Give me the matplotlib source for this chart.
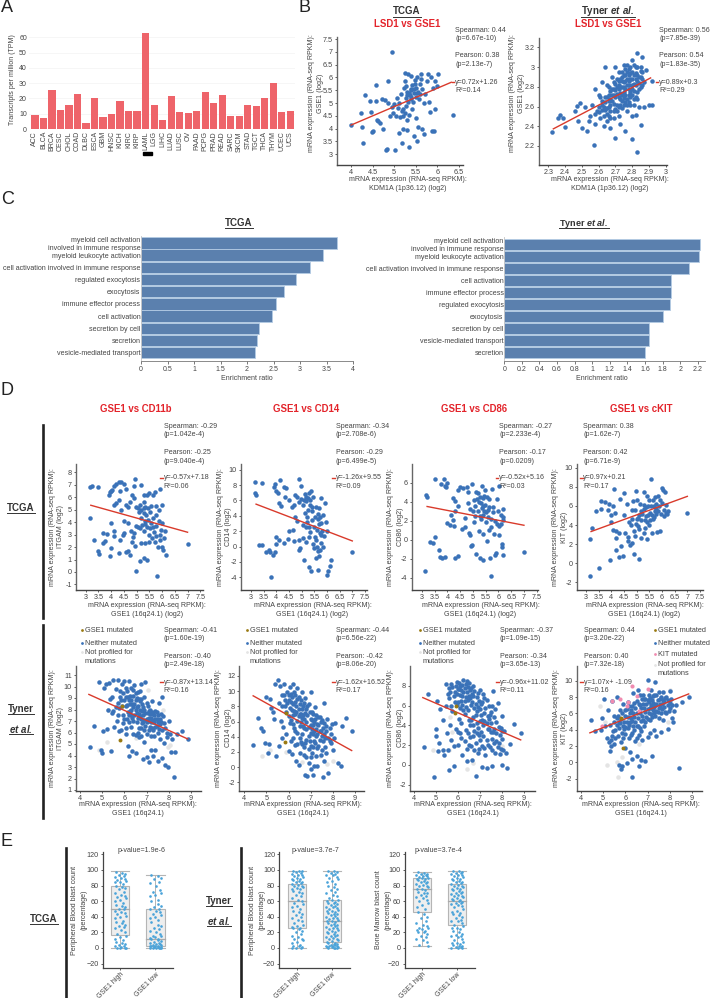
import matplotlib
matplotlib.use("Agg")
import matplotlib.pyplot as plt
from matplotlib.lines import Line2D
from matplotlib.patches import Rectangle

plt.rcParams['font.family'] = ['Liberation Sans', 'DejaVu Sans']
plt.rcParams['mathtext.fontset'] = 'custom'
plt.rcParams['mathtext.rm'] = 'Liberation Sans'
plt.rcParams['mathtext.bfit'] = 'Liberation Sans:italic:bold'

W, H = 710, 998
TXT = '#444444'
RED = '#e3242b'
BLUE = '#3a72b8'
LINE_RED = '#d93a2b'

# ---- panel A
cancer_types = ["ACC","BLCA","BRCA","CESC","CHOL","COAD","DLBC","ESCA","GBM","HNSC","KICH","KIRC","KIRP","LAML","LGG","LIHC","LUAD","LUSC","OV","PAAD","PCPG","PRAD","READ","SARC","SKCM","STAD","TGCT","THCA","THYM","UCEC","UCS"]
tpm = [9,7,25.3,12.2,16,23,4,20,8,9.5,18,12,11.5,62.8,15.7,6,21.6,10.8,10.4,12,24.2,17,22.5,8.6,8.2,15.5,15,20,30,11,12]

# ---- panel B
b_tcga = [(4.0,4.14),(4.22,4.6),(4.25,4.05),(4.27,3.45),(4.33,5.33),(4.45,5.08),(4.47,4.65),(4.5,3.9),(4.48,3.87),(4.58,5.7),(4.57,5.08),(4.6,4.35),(4.62,4.3),(4.68,4.22),(4.72,5.15),(4.75,4.0),(4.78,5.12),(4.8,3.15),(4.83,3.2),(4.85,5.85),(4.85,5.0),(4.9,4.5),(4.96,6.98),(4.95,4.85),(4.98,4.6),(5.0,4.95),(5.03,3.15),(5.05,4.5),(5.07,5.2),(5.08,4.8),(5.1,3.85),(5.12,5.0),(5.15,5.35),(5.17,3.45),(5.2,4.0),(5.2,4.5),(5.22,5.6),(5.25,5.85),(5.25,6.18),(5.27,4.9),(5.3,3.95),(5.3,5.45),(5.32,6.15),(5.33,5.05),(5.35,4.55),(5.35,3.3),(5.38,5.55),(5.38,5.15),(5.4,6.05),(5.42,4.75),(5.42,5.7),(5.45,5.4),(5.45,3.7),(5.47,5.9),(5.5,5.25),(5.5,4.4),(5.5,5.6),(5.52,3.5),(5.53,6.0),(5.55,5.45),(5.55,4.05),(5.58,5.15),(5.6,5.75),(5.62,5.95),(5.63,6.12),(5.65,5.55),(5.65,4.0),(5.68,5.0),(5.7,3.8),(5.72,5.35),(5.75,5.85),(5.78,6.15),(5.8,5.05),(5.82,4.65),(5.85,6.0),(5.87,3.9),(5.9,5.6),(5.92,3.92),(5.95,4.75),(5.95,5.85),(6.02,6.12),(6.0,5.65),(6.35,4.53),(5.28,5.2),(5.36,5.3),(5.44,5.05),(5.6,5.35),(5.48,5.75),(5.28,5.65),(5.18,4.7),(5.34,5.4),(5.4,5.5),(5.46,5.55),(5.3,5.3),(5.4,5.25),(5.52,5.4),(5.26,4.6),(5.14,4.45),(5.2,4.75),(5.3,4.35)]
b_tyner = [(2.32,2.34),(2.36,2.48),(2.37,2.51),(2.39,2.48),(2.4,2.39),(2.46,2.55),(2.47,2.61),(2.48,2.45),(2.49,2.64),(2.5,2.38),(2.52,2.6),(2.53,2.35),(2.54,2.45),(2.55,2.5),(2.56,2.62),(2.57,2.21),(2.58,2.42),(2.58,2.78),(2.59,2.55),(2.6,2.72),(2.61,2.48),(2.62,2.62),(2.62,2.85),(2.63,2.4),(2.64,2.56),(2.64,3.0),(2.65,2.7),(2.66,2.5),(2.66,2.8),(2.67,2.62),(2.67,2.38),(2.68,2.9),(2.69,2.55),(2.69,2.72),(2.7,2.28),(2.7,2.83),(2.7,3.0),(2.71,2.62),(2.72,2.5),(2.72,2.78),(2.72,2.95),(2.73,2.68),(2.73,2.42),(2.74,2.86),(2.74,2.58),(2.75,3.02),(2.75,2.75),(2.76,2.65),(2.76,2.35),(2.76,2.92),(2.77,2.82),(2.77,2.55),(2.78,2.98),(2.78,2.72),(2.79,2.88),(2.79,2.62),(2.8,3.07),(2.8,2.78),(2.8,2.27),(2.8,2.5),(2.81,2.92),(2.81,2.68),(2.82,3.0),(2.82,2.82),(2.82,2.51),(2.83,2.14),(2.83,3.14),(2.83,2.75),(2.84,2.9),(2.84,2.6),(2.85,3.0),(2.85,2.8),(2.85,2.41),(2.86,3.1),(2.86,2.95),(2.87,2.85),(2.87,2.6),(2.88,2.97),(2.9,2.62),(2.92,2.62),(2.92,2.86),(2.68,2.66),(2.7,2.7),(2.72,2.86),(2.74,2.72),(2.76,2.78),(2.78,2.82),(2.8,2.88),(2.66,2.6),(2.64,2.65),(2.62,2.56),(2.68,2.78),(2.7,2.57),(2.74,2.95),(2.78,2.65),(2.82,2.7),(2.84,2.84),(2.6,2.6),(2.58,2.52),(2.65,2.45),(2.72,2.6),(2.76,2.98),(2.8,2.95),(2.73,2.8),(2.69,2.85),(2.75,2.85),(2.79,2.75),(2.83,2.92),(2.66,2.72),(2.63,2.5),(2.77,2.68),(2.71,2.73),(2.81,2.83),(2.85,2.9),(2.78,2.92),(2.74,2.66),(2.67,2.55),(2.61,2.7),
 (2.65,2.58),(2.67,2.68),(2.69,2.63),(2.71,2.8),(2.73,2.74),(2.75,2.69),(2.77,2.88),(2.79,2.94),(2.81,2.76),(2.83,2.86),(2.85,2.96),(2.86,2.88),(2.84,2.78),(2.82,2.94),(2.8,2.82),(2.78,2.78),(2.76,2.72),(2.74,2.8),(2.72,2.7),(2.7,2.77),(2.68,2.72),(2.66,2.66),(2.64,2.7),(2.62,2.66),(2.6,2.54),(2.63,2.6),(2.65,2.52),(2.67,2.48),(2.69,2.48),(2.71,2.55),(2.73,2.62),(2.75,2.62),(2.77,2.62),(2.79,2.7),(2.81,2.62),(2.83,2.68),(2.75,2.92),(2.77,2.95),(2.79,3.0),(2.81,3.02),(2.83,3.0),(2.73,2.88),(2.71,2.88),(2.69,2.78),(2.67,2.76),(2.65,2.82),(2.77,3.02),(2.75,2.8),(2.72,2.82),(2.82,2.88),(2.86,2.82),(2.8,2.72),(2.78,2.86),(2.76,2.86),(2.74,2.9)]

# ---- panel C
terms_tcga = ["myeloid cell activation\ninvolved in immune response","myeloid leukocyte activation","cell activation involved in immune response","regulated exocytosis","exocytosis","immune effector process","cell activation","secretion by cell","secretion","vesicle-mediated transport"]
ratio_tcga = [3.7,3.44,3.19,2.93,2.69,2.54,2.48,2.22,2.18,2.16]
terms_tyner = ["myeloid cell activation\ninvolved in immune response","myeloid leukocyte activation","cell activation involved in immune response","cell activation","immune effector process","regulated exocytosis","exocytosis","secretion by cell","vesicle-mediated transport","secretion"]
ratio_tyner = [2.23,2.21,2.10,1.89,1.89,1.88,1.81,1.65,1.64,1.60]

# ---- panel D, TCGA row
itgam_tcga = [(3.16,6.85),(3.24,6.9),(3.47,6.85),(3.16,4.35),(3.31,2.55),(3.48,1.72),(3.51,1.45),(3.68,3.1),(3.68,2.35),(3.75,2.5),(3.85,3.08),(3.95,1.25),(4.0,3.95),(4.0,1.9),(4.1,3.3),(4.1,2.85),(4.3,1.5),(4.35,2.6),(4.45,3.0),(4.5,3.1),(4.6,1.6),(4.67,1.65),(4.75,1.4),(4.82,2.4),(4.86,2.8),(4.93,2.1),(4.97,0.1),(5.04,3.6),(5.12,0.9),(5.19,2.3),(5.27,1.1),(5.34,2.3),(5.41,1.0),(5.8,-0.32),(5.49,2.4),(3.9,6.2),(3.95,6.4),(4.0,6.5),(4.05,6.6),(4.1,6.9),(4.2,7.1),(4.3,7.2),(4.4,7.25),(4.5,7.1),(4.6,6.7),(4.35,6.5),(4.3,5.8),(4.2,5.5),(4.1,5.4),(4.4,5.0),(4.6,5.4),(4.67,5.2),(4.75,5.6),(4.82,6.2),(4.9,6.9),(4.93,7.5),(4.9,5.9),(4.97,5.2),(5.04,5.1),(5.12,5.4),(5.19,7.0),(5.27,6.2),(5.27,5.6),(5.34,5.2),(5.41,6.2),(5.49,6.3),(5.56,5.3),(5.64,6.2),(5.71,6.4),(5.78,5.3),(5.86,5.0),(5.93,6.7),(6.01,5.4),(7.0,2.25),(4.5,4.1),(4.67,3.9),(4.79,3.3),(4.9,3.1),(4.97,3.7),(5.12,3.5),(5.19,4.3),(5.23,3.8),(5.27,4.7),(5.3,3.3),(5.34,4.1),(5.38,4.6),(5.41,3.6),(5.45,4.2),(5.49,3.0),(5.53,4.8),(5.56,3.9),(5.6,2.7),(5.64,4.3),(5.67,3.2),(5.71,2.4),(5.75,3.7),(5.78,2.9),(5.82,2.0),(5.86,4.1),(5.9,3.0),(5.93,2.6),(5.97,3.4),(6.01,2.0),(6.01,3.9),(6.04,1.8),(6.08,2.7),(6.12,3.3),(6.16,1.35),(5.08,4.8),(5.16,5.0),(5.34,3.85),(5.27,5.15),(5.45,5.1),(5.64,3.6),(5.53,3.5),(5.78,4.6)]
cd14_tcga = [(3.15,8.35),(3.15,6.95),(3.2,6.7),(3.45,8.25),(3.3,0.2),(3.45,0.25),(3.6,-0.65),(3.7,-0.4),(3.75,-0.65),(3.8,-3.9),(3.85,-1.1),(3.95,-0.7),(3.9,7.8),(3.95,8.1),(4.0,7.2),(4.05,7.0),(4.15,8.7),(4.3,7.7),(4.35,6.4),(4.4,7.6),(4.5,6.1),(4.1,5.7),(4.2,5.3),(4.0,1.2),(4.0,0.3),(4.1,0.8),(4.3,0.5),(4.45,1.0),(4.5,2.0),(4.67,2.2),(4.71,0.7),(4.6,5.2),(4.71,5.4),(4.75,6.7),(4.82,6.4),(4.9,5.8),(4.9,8.8),(4.97,7.9),(4.97,6.2),(5.04,5.4),(5.04,2.8),(5.12,6.8),(5.16,5.9),(4.75,3.8),(4.82,3.3),(4.9,0.9),(4.9,-0.4),(4.93,-0.2),(5.04,1.1),(5.08,-1.7),(5.16,0.6),(5.19,2.6),(5.23,3.9),(5.27,4.7),(5.3,1.3),(5.34,6.0),(5.38,7.2),(5.41,5.1),(5.41,3.4),(5.45,0.3),(5.49,-0.2),(5.53,3.9),(5.56,5.1),(5.6,2.1),(5.64,3.6),(5.64,-0.6),(5.67,-1.2),(5.71,1.7),(5.75,0.4),(5.78,6.3),(5.86,4.1),(5.93,5.7),(5.97,3.2),(6.01,2.0),(5.3,-2.7),(5.35,-3.2),(5.65,-3.1),(6.0,-3.7),(6.05,-3.2),(6.1,-2.5),(6.15,-1.8),(7.0,-0.7),(5.23,3.2),(5.3,2.5),(5.34,1.9),(5.41,4.6),(5.49,2.5),(5.53,1.2),(5.56,0.8),(5.64,4.2),(5.67,2.9),(5.71,3.9),(5.75,1.5),(5.78,3.1),(5.82,2.0),(5.86,0.0),(5.9,1.4),(5.12,4.4),(5.08,6.1),(5.19,6.5),(5.27,6.3),(5.34,5.4),(5.45,6.5),(5.3,7.0),(5.67,5.0),(5.56,-1.5),(5.6,0.0),(5.71,-0.5)]
cd86_tcga = [(3.1,-3.3),(3.15,4.7),(3.2,4.5),(3.3,-0.2),(3.45,-0.3),(3.5,0.25),(3.5,6.4),(3.65,-1.05),(3.7,-1.85),(3.8,-1.95),(3.9,-1.85),(3.85,6.4),(3.9,5.7),(3.95,5.6),(3.75,5.9),(4.0,6.0),(4.2,4.4),(4.3,4.1),(4.4,3.6),(4.4,5.2),(4.5,5.5),(4.6,5.4),(4.0,1.8),(4.1,1.6),(4.15,2.6),(4.3,3.0),(4.2,2.1),(4.25,1.4),(4.3,-1.95),(4.4,-1.7),(4.56,1.1),(4.67,2.3),(4.67,1.3),(4.75,5.5),(4.79,5.0),(4.82,3.9),(4.86,0.7),(4.9,3.2),(4.9,0.5),(4.93,-0.65),(4.97,-0.6),(4.97,5.9),(5.04,1.9),(5.04,4.2),(5.08,3.6),(5.12,5.0),(5.12,-1.5),(5.19,3.0),(5.23,0.9),(5.27,2.5),(5.27,-1.9),(5.3,3.9),(5.34,5.7),(5.38,4.4),(5.41,0.6),(5.41,-2.1),(5.45,3.0),(5.49,5.2),(5.53,1.9),(5.56,-0.1),(5.6,3.1),(5.64,4.3),(5.64,1.0),(5.67,-1.9),(5.71,2.2),(5.75,5.3),(5.78,3.4),(5.82,0.6),(5.86,-1.65),(5.7,-3.8),(5.9,-1.4),(5.93,4.3),(5.97,3.0),(6.01,1.4),(6.01,5.7),(6.04,0.5),(6.08,2.6),(6.12,-0.4),(6.16,2.1),(6.15,-0.8),(6.19,2.4),(6.19,-1.6),(7.0,-1.3),(5.3,2.2),(5.34,3.3),(5.27,4.5),(5.23,4.0),(5.19,4.9),(5.38,3.6),(5.41,2.6),(5.49,3.7),(5.53,2.9),(5.56,4.5),(5.16,4.3),(5.08,2.5),(5.45,4.6),(5.6,2.4),(5.64,3.4),(5.71,1.3),(5.78,2.9),(5.01,3.0),(5.86,2.0),(5.93,1.7),(6.08,1.7),(6.16,3.2)]
kit_tcga = [(3.15,-1.35),(3.15,2.5),(3.25,3.7),(3.4,5.5),(3.5,-0.5),(3.6,6.5),(3.6,5.7),(3.75,6.4),(3.85,5.6),(3.9,6.2),(3.95,0.3),(4.0,5.0),(4.0,4.3),(4.05,6.0),(4.05,3.5),(4.1,7.8),(4.15,5.3),(4.2,3.4),(4.2,2.6),(4.2,1.4),(4.3,3.2),(4.3,0.6),(4.35,6.7),(4.4,1.8),(4.45,0.8),(4.5,7.4),(4.5,5.0),(4.55,3.2),(4.6,6.2),(4.64,2.3),(4.67,2.7),(4.71,4.3),(4.75,1.9),(4.79,4.0),(4.82,5.6),(4.82,2.1),(4.86,6.5),(4.9,1.0),(4.9,3.4),(4.93,2.9),(4.97,7.6),(5.01,6.6),(5.01,4.6),(5.04,3.9),(5.08,5.0),(5.12,6.2),(5.1,0.45),(5.16,2.6),(5.19,4.5),(5.27,7.5),(5.27,3.2),(5.3,5.7),(5.34,3.7),(5.38,4.9),(5.41,7.0),(5.41,2.5),(5.45,6.0),(5.49,4.0),(5.53,5.3),(5.56,8.8),(5.6,3.2),(5.64,6.6),(5.67,4.8),(5.71,5.5),(5.78,6.2),(5.82,3.3),(5.86,7.0),(5.93,6.6),(5.93,3.4),(6.01,7.9),(6.04,7.7),(6.08,5.6),(6.12,7.5),(6.16,6.1),(6.19,5.1),(6.23,5.5),(7.0,5.3),(5.04,4.7),(5.16,5.5),(5.23,5.2),(5.27,6.1),(5.34,4.5),(5.38,5.9),(5.41,4.3),(5.45,5.0),(5.49,6.6),(5.53,4.5),(5.56,6.0),(5.6,5.0),(5.64,4.6),(5.67,6.0),(5.71,6.9),(5.75,5.2),(5.78,5.7),(5.86,5.5),(5.9,6.0),(5.97,5.2),(6.01,6.3),(6.08,4.9),(6.16,5.3),(4.82,4.6),(4.97,4.1),(4.93,5.6),(5.08,3.6)]

# ---- panel D, Tyner row
itgam_tyner = [(4.45,4.75),(4.65,6.55),(4.85,10.4),(4.95,4.5),(5.0,4.2),(5.05,6.1),(5.1,9.9),(5.15,10.2),(5.2,6.3),(5.25,8.0),(5.3,10.3),(5.35,8.9),(5.4,4.35),(5.45,7.7),(5.5,10.6),(5.55,6.5),(5.6,8.2),(5.6,9.8),(5.65,7.0),(5.7,10.6),(5.75,6.1),(5.8,9.1),(5.85,6.2),(5.9,10.2),(5.95,7.5),(6.0,10.5),(6.0,8.8),(6.05,5.9),(6.1,9.6),(6.15,7.8),(6.15,4.8),(6.2,10.5),(6.2,4.0),(6.25,8.5),(6.3,6.5),(6.3,9.9),(6.35,7.3),(6.35,4.4),(6.4,9.2),(6.4,5.9),(6.45,10.1),(6.5,8.0),(6.5,4.2),(6.55,6.9),(6.6,9.5),(6.65,7.6),(6.65,5.6),(6.7,8.7),(6.75,10.2),(6.75,6.4),(6.8,7.9),(6.85,3.7),(6.9,9.1),(6.9,5.2),(6.95,10.4),(7.0,7.2),(7.0,3.9),(7.05,8.3),(7.1,6.2),(7.1,3.4),(7.15,7.6),(7.2,4.5),(7.25,8.7),(7.3,6.9),(7.3,4.0),(7.35,5.7),(7.4,7.9),(7.4,4.5),(7.45,6.6),(7.5,3.5),(7.55,8.6),(7.6,7.2),(7.6,5.4),(7.7,6.2),(7.7,9.1),(7.7,3.8),(7.75,7.4),(7.8,5.1),(7.85,3.2),(7.9,6.0),(7.95,3.0),(8.0,7.0),(8.05,5.9),(8.1,4.3),(8.15,5.4),(8.25,2.1),(8.3,4.3),(8.35,5.9),(8.6,6.1),(8.85,5.4),(5.7,8.6),(5.9,8.3),(6.0,7.2),(6.1,8.4),(6.2,7.5),(6.25,9.2),(6.3,8.0),(6.4,7.0),(6.45,8.5),(6.5,9.4),(6.55,7.7),(6.6,8.3),(6.65,6.4),(6.7,7.4),(6.75,8.9),(6.8,6.8),(6.85,7.5),(6.9,8.0),(6.95,6.6),(7.0,8.6),(7.05,7.0),(7.1,7.9),(7.15,6.5),(7.2,7.3),(7.25,7.8),(7.3,6.2),(7.35,7.5),(7.45,7.2),(7.5,6.9),(7.55,6.3),(6.3,8.8),(6.05,9.1),(6.4,9.7),(6.7,9.6),(5.95,6.8),
 (5.8,9.6),(5.85,8.8),(5.95,9.4),(6.05,9.9),(6.05,8.3),(6.15,9.1),(6.2,8.8),(6.25,7.9),(6.35,8.5),(6.4,8.2),(6.45,7.5),(6.5,8.8),(6.55,9.0),(6.55,8.2),(6.6,7.3),(6.65,8.9),(6.7,8.0),(6.75,7.2),(6.8,8.5),(6.85,8.2),(6.85,6.9),(6.9,7.1),(6.95,7.7),(7.0,6.9),(7.05,7.7),(7.1,7.3),(7.15,8.0),(7.2,6.9),(7.25,7.1),(7.3,7.6),(7.35,6.9),(7.4,7.2),(7.45,7.8),(7.5,7.5),(7.55,7.0),(7.6,6.7),(7.65,7.6),(7.65,6.9),(7.8,6.8),(7.85,6.4),(6.5,5.8),(6.6,6.0),(6.75,5.7),(6.9,6.2),(7.0,5.9),(7.2,5.7),(7.25,6.4),(7.4,6.5),(7.5,6.0),(6.3,7.5),(6.1,7.2),(6.2,6.9),(6.05,6.4),(5.7,7.5),(5.75,8.1),(5.5,7.9),(5.45,9.1),(7.9,5.6)]
cd14_tyner = [(4.4,2.9),(4.6,6.45),(4.75,5.1),(4.85,4.8),(4.95,3.2),(5.0,9.3),(5.05,1.9),(5.1,3.1),(5.15,9.0),(5.2,7.8),(5.3,7.2),(5.35,6.4),(5.4,11.0),(5.45,1.5),(5.5,11.5),(5.55,8.5),(5.55,2.8),(5.6,10.7),(5.65,6.1),(5.7,9.5),(5.7,3.8),(5.75,5.3),(5.8,11.0),(5.85,8.0),(5.9,4.3),(5.95,9.9),(6.0,6.7),(6.0,2.1),(6.05,10.5),(6.1,8.6),(6.1,3.5),(6.15,1.7),(6.2,11.0),(6.2,5.7),(6.25,7.4),(6.3,9.5),(6.3,2.9),(6.35,0.8),(6.4,10.4),(6.4,4.5),(6.45,6.7),(6.45,0.3),(6.5,8.3),(6.55,3.3),(6.6,9.9),(6.65,5.4),(6.7,2.6),(6.75,-1.0),(6.8,7.6),(6.8,1.3),(6.85,-1.2),(6.9,4.1),(6.9,0.6),(7.0,9.9),(7.0,-0.3),(7.05,6.2),(7.05,1.8),(7.1,-1.0),(7.15,3.5),(7.15,0.2),(7.2,7.9),(7.25,5.0),(7.3,2.5),(7.3,0.2),(7.4,6.6),(7.4,3.6),(7.45,1.6),(7.55,-1.3),(7.6,8.5),(7.6,4.4),(7.65,2.7),(7.75,6.3),(7.8,-0.8),(7.85,3.5),(7.95,5.7),(8.0,2.3),(8.05,3.9),(8.1,5.8),(8.25,0.5),(8.35,0.2),(8.4,5.4),(8.6,6.5),(8.85,4.8),(5.7,8.0),(5.9,7.2),(6.0,8.8),(6.1,6.2),(6.15,7.5),(6.25,5.1),(6.35,8.1),(6.4,6.1),(6.45,9.2),(6.5,5.4),(6.55,7.0),(6.6,4.3),(6.65,8.0),(6.7,6.4),(6.75,9.1),(6.8,5.0),(6.85,6.9),(6.9,8.3),(6.95,3.4),(7.0,5.5),(7.05,7.3),(7.1,4.3),(7.15,6.0),(7.2,3.2),(7.25,6.9),(7.3,4.4),(7.35,5.5),(7.45,4.7),(7.5,6.2),(7.55,3.4),(7.7,4.8),(7.9,4.4),(6.1,9.6),(6.3,7.0),(6.5,3.9),(6.6,6.5),(6.8,3.6),(7.0,2.8),(6.2,3.9),
 (5.8,9.5),(5.85,8.9),(5.95,8.5),(6.0,9.5),(6.05,7.8),(6.15,9.3),(6.2,8.3),(6.25,9.9),(6.3,8.6),(6.35,7.2),(6.4,9.0),(6.45,7.7),(6.5,7.0),(6.55,8.8),(6.55,5.9),(6.6,7.6),(6.65,6.8),(6.7,8.4),(6.7,5.2),(6.75,7.1),(6.8,6.0),(6.85,8.0),(6.9,5.3),(6.95,7.2),(7.0,6.4),(7.0,4.5),(7.05,5.0),(7.1,7.0),(7.1,5.6),(7.15,4.8),(7.2,6.3),(7.25,4.1),(7.3,5.7),(7.35,6.6),(7.4,4.8),(7.45,5.9),(7.5,4.1),(7.55,5.1),(7.6,5.8),(7.65,3.8),(7.7,5.4),(7.8,3.9),(7.85,5.1),(7.9,3.2),(6.4,3.0),(6.5,1.9),(6.6,3.1),(6.7,1.6),(6.75,3.2),(6.9,2.4),(7.0,1.3),(7.1,2.7),(7.25,1.5),(7.35,2.8),(7.5,2.2),(7.6,0.8),(7.7,1.9),(6.3,4.7),(6.2,6.9),(6.05,5.8)]
cd86_tyner = [(4.45,1.85),(4.65,7.2),(4.9,-1.25),(5.0,3.65),(5.0,2.9),(5.05,6.5),(5.1,1.45),(5.15,2.2),(5.2,5.6),(5.3,1.5),(5.3,4.5),(5.35,1.05),(5.45,8.2),(5.45,6.0),(5.5,3.2),(5.55,1.5),(5.6,7.8),(5.6,-0.55),(5.65,4.0),(5.7,2.5),(5.7,8.2),(5.75,5.4),(5.8,-0.15),(5.8,1.9),(5.85,7.4),(5.9,3.6),(5.95,8.4),(6.0,6.4),(6.0,2.0),(6.05,4.6),(6.1,8.0),(6.15,2.7),(6.2,7.0),(6.2,1.0),(6.25,8.6),(6.3,5.1),(6.35,3.5),(6.4,8.5),(6.4,0.35),(6.45,6.6),(6.5,2.0),(6.55,7.6),(6.6,4.5),(6.65,0.5),(6.7,8.0),(6.7,2.9),(6.75,5.7),(6.8,-1.1),(6.85,6.9),(6.9,3.7),(6.95,1.6),(7.0,7.6),(7.05,5.0),(7.1,-0.2),(7.15,2.9),(7.2,6.8),(7.25,1.0),(7.3,4.2),(7.3,-0.35),(7.4,6.0),(7.45,1.8),(7.5,3.3),(7.55,-0.15),(7.6,7.5),(7.65,4.8),(7.7,1.2),(7.75,2.4),(7.8,6.3),(7.85,3.8),(7.9,1.1),(8.0,4.9),(8.0,2.6),(8.0,-0.05),(8.05,1.5),(8.1,3.4),(8.2,1.25),(8.25,-0.3),(8.35,2.1),(8.55,4.15),(8.85,3.25),(5.6,6.8),(5.7,6.0),(5.85,6.4),(5.95,7.2),(6.05,7.7),(6.1,5.7),(6.2,6.1),(6.25,7.4),(6.35,6.9),(6.45,5.5),(6.5,7.0),(6.55,4.0),(6.6,6.1),(6.65,7.2),(6.7,4.8),(6.75,3.4),(6.8,5.0),(6.85,4.2),(6.9,5.8),(6.95,3.0),(7.0,4.4),(7.05,3.3),(7.1,6.4),(7.15,4.0),(7.2,5.2),(7.3,2.5),(7.35,3.6),(7.4,4.6),(7.5,5.3),(7.55,2.6),(7.65,3.6),(7.75,4.3),(7.85,2.2),(7.95,3.7),(6.0,3.3),(6.15,4.2),(6.3,2.4),(6.45,3.2),(6.6,1.9),(6.8,2.2),(6.9,1.2),(7.1,1.9),
 (5.55,7.2),(5.65,7.4),(5.75,7.9),(5.8,7.0),(5.9,8.0),(6.0,7.7),(6.05,8.3),(6.1,7.1),(6.15,7.6),(6.2,8.1),(6.3,7.8),(6.3,6.5),(6.35,8.2),(6.4,7.4),(6.45,7.9),(6.5,8.3),(6.55,6.8),(6.6,7.8),(6.65,6.4),(6.7,7.0),(6.75,7.5),(6.8,6.2),(6.85,5.4),(6.9,7.3),(6.95,6.5),(7.0,5.6),(7.05,6.2),(7.1,4.5),(7.15,7.2),(7.2,4.4),(7.25,5.7),(7.3,6.6),(7.35,4.9),(7.4,3.6),(7.45,5.0),(7.5,4.2),(7.55,6.0),(7.6,3.3),(7.7,5.6),(7.75,3.2),(7.9,3.0),(8.0,3.4),(6.85,3.2),(6.7,4.0),(6.5,4.5),(6.35,5.8),(6.25,5.5),(6.15,6.5),(5.95,6.1),(6.4,1.6),(6.55,2.8),(6.75,1.5),(7.0,2.5),(7.2,1.7),(7.35,2.0),(7.55,1.5),(7.65,2.2),(7.8,1.8),(7.95,1.6),(6.1,3.2)]
kit_tyner = [(4.45,5.2),(4.65,3.8),(4.9,4.0),(4.95,5.4),(5.05,7.7),(5.1,4.4),(5.15,3.0),(5.2,6.4),(5.25,2.5),(5.3,1.4),(5.3,4.6),(5.35,2.0),(5.4,3.2),(5.4,7.5),(5.5,5.7),(5.5,2.2),(5.55,4.0),(5.6,8.0),(5.65,3.2),(5.7,5.0),(5.7,-0.3),(5.75,6.4),(5.8,2.5),(5.8,-0.8),(5.85,-0.4),(5.9,4.4),(5.9,7.2),(6.0,3.5),(6.0,1.7),(6.0,5.7),(6.05,-0.1),(6.1,7.4),(6.15,3.0),(6.2,4.9),(6.2,1.3),(6.25,6.4),(6.3,0.4),(6.3,-1.8),(6.35,8.5),(6.4,4.0),(6.45,2.6),(6.5,6.0),(6.5,0.8),(6.55,8.9),(6.6,3.4),(6.6,-0.4),(6.65,7.0),(6.7,5.1),(6.7,0.3),(6.75,2.8),(6.8,8.2),(6.85,4.4),(6.9,6.2),(6.9,0.2),(7.0,10.1),(7.0,3.1),(7.05,7.4),(7.1,5.2),(7.15,8.9),(7.2,0.8),(7.25,6.4),(7.3,4.0),(7.35,9.9),(7.4,7.2),(7.4,3.2),(7.5,8.6),(7.5,5.4),(7.55,6.8),(7.6,3.7),(7.7,8.6),(7.7,5.2),(7.75,7.4),(7.85,6.0),(7.9,4.1),(8.0,8.7),(8.0,6.6),(8.05,7.7),(8.1,5.4),(8.15,5.0),(8.3,7.0),(8.4,-0.75),(8.55,7.4),(8.85,8.0),(5.5,4.9),(5.7,4.2),(5.85,6.0),(5.95,5.0),(6.05,6.5),(6.1,4.2),(6.15,6.9),(6.25,5.4),(6.35,6.1),(6.4,7.3),(6.45,5.0),(6.5,7.5),(6.55,4.5),(6.6,6.2),(6.65,8.3),(6.75,5.7),(6.8,7.1),(6.85,6.6),(6.9,7.7),(6.95,5.6),(7.0,6.5),(7.05,8.3),(7.1,6.7),(7.15,5.9),(7.2,7.6),(7.25,8.1),(7.3,6.8),(7.35,5.7),(7.4,8.3),(7.45,6.2),(7.55,7.7),(7.6,6.0),(7.65,7.2),(7.8,7.9),(7.9,7.0),(5.6,5.4),(5.9,3.0),(6.3,3.6),(6.0,4.3),
 (5.6,4.6),(5.65,5.7),(5.75,4.8),(5.8,5.3),(5.85,3.6),(5.95,4.1),(6.0,6.4),(6.05,4.9),(6.1,5.5),(6.15,4.6),(6.2,6.0),(6.25,3.4),(6.3,5.1),(6.3,6.9),(6.35,4.5),(6.4,5.6),(6.45,6.7),(6.5,4.4),(6.55,5.4),(6.6,7.2),(6.65,4.2),(6.65,6.0),(6.7,6.6),(6.75,7.7),(6.8,5.2),(6.85,7.8),(6.9,5.0),(6.95,7.1),(7.0,5.3),(7.0,7.6),(7.05,6.1),(7.1,7.9),(7.15,7.0),(7.2,5.5),(7.2,6.6),(7.25,7.3),(7.3,6.0),(7.3,8.3),(7.35,7.0),(7.4,6.3),(7.45,7.6),(7.5,6.6),(7.55,7.2),(7.6,8.0),(7.65,6.5),(7.7,7.6),(7.75,6.8),(7.8,6.2),(7.85,8.0),(7.9,7.6),(7.95,6.3),(8.0,7.3),(8.1,7.0),(8.2,6.3),(6.5,3.0),(6.7,3.9),(7.1,3.6),(5.55,3.0),(5.45,3.9),(5.35,2.8)]
gold_itgam = [(5.9,8.3),(5.82,5.35)]
gold_cd14 = [(5.88,7.1),(5.82,3.35)]
gold_cd86 = [(5.92,5.9),(5.85,5.2)]
gold_kit = [(5.82,5.45),(5.88,1.75)]
grey_itgam = [(4.85,4.5),(5.2,5.15),(5.25,7.95),(7.05,9.7),(7.75,8.0),(7.95,4.7),(8.05,4.95),(6.5,5.5)]
grey_cd14 = [(4.8,1.45),(5.15,2.2),(5.65,5.9),(5.9,2.0),(6.6,0.7),(7.75,0.4),(8.0,0.8),(7.4,1.5)]
grey_cd86 = [(4.85,1.55),(5.6,1.55),(5.65,4.85),(5.75,3.3),(6.4,-0.45),(6.7,0.2),(8.0,1.9),(7.9,1.8)]
grey_kit = [(4.85,6.9),(5.1,5.0),(5.15,-0.3),(5.6,0.0),(5.65,-1.8),(5.85,0.6),(6.3,4.6),(6.6,2.3),(7.9,4.9),(8.0,8.9)]
pink_kit = [(5.4,7.5),(5.75,7.75),(6.05,6.9),(6.1,7.4),(6.3,9.35),(6.5,8.15),(6.6,6.3),(7.0,9.0),(4.95,4.4)]

# ---- panel E
jitter = [-.12,.06,.15,-.04,.1,-.16,.02,.13,-.08,.17,-.01,-.14,.08]
pb_tcga_high = [97,96,95,93,92,91,90,88,87,86,85,84,82,80,78,77,75,72,70,68,66,65,64,62,60,58,55,54,52,50,50,48,46,45,43,41,40,38,35,33,32,30,28,27,25,23,20,18,16,14,12,10,8,6,5,4,3,2,1,0,0,0,0]
pb_tcga_low = [94,92,90,88,85,83,79,74,72,70,68,66,62,60,56,54,52,50,50,48,46,44,42,40,38,36,33,30,28,26,24,22,20,18,16,15,14,13,12,11,10,9,8,7,6,5,5,4,4,3,3,2,2,1,1,1,0,0,0,0,0,0]
pb_tyner_high = [99,99,98,97,96,95,94,93,92,91,90,89,88,87,86,85,84,83,82,81,80,79,78,77,76,75,73,72,70,68,66,64,62,60,58,56,54,52,50,48,46,44,42,40,38,36,34,32,30,28,27,26,25,24,22,20,18,16,14,12,11,10,8,6,4,3,2,1,0,0,0]
pb_tyner_low = [99,98,97,96,95,94,93,91,90,88,86,84,82,80,78,76,74,72,70,68,66,64,62,61,60,59,58,57,56,55,54,53,52,51,50,49,48,47,46,45,44,43,42,41,40,39,38,37,36,35,34,33,32,31,30,29,28,27,26,25,24,23,22,21,20,19,18,17,16,15,14,13,12,11,10,9,8,7,6,5,5,4,4,3,3,2,2,1,1,1,0,0,0,0]
bm_tyner_high = [97,96,95,95,94,93,92,92,91,90,90,89,88,87,86,85,84,83,82,81,80,79,78,76,75,74,72,71,70,68,66,65,64,62,60,58,55,52,50,46,44,40,38,35,32,30,28,26,25,24,23,22,21,20,18,16,14,12,10,8,4,2]
bm_tyner_low = [98,98,97,96,96,95,94,93,92,91,90,89,88,87,86,85,84,83,82,81,80,79,78,77,76,75,74,73,72,71,70,69,68,67,66,65,64,63,62,61,60,59,58,57,56,55,54,52,50,48,46,45,44,42,40,38,36,35,34,32,30,28,26,25,24,22,20,18,17,16,15,14,12,10,8,7,6,5,4,3,2,1,1,0,0,0]
box_stats_tcga = [(0,17,50,79,98),(0,2,12,50,94)]
box_stats_pb = [(0,25,60,82,99),(0,8,34,62,99)]
box_stats_bm = [(2,46,75,90,97),(0,30,60,82,98)]


fig = plt.figure(figsize=(W / 100, H / 100), dpi=100)


def ftext(x, y, s, size=5.1, color=TXT, ha='left', va='center', **kw):
    return fig.text(x / W, 1 - y / H, s, fontsize=size, color=color, ha=ha, va=va, **kw)


def uline(x, y, s, size=7):
    # bold underlined heading, line length taken from the rendered text
    t = ftext(x, y, s, size=size, color='#333333', ha='center', fontweight='bold')
    box = t.get_window_extent(fig.canvas.get_renderer())
    ly = 1 - (y + size * 0.72) / H
    fig.add_artist(Line2D([box.x0 / W, box.x1 / W], [ly, ly], color='#333333', lw=0.7))


def make_axes(l, t, r, b):
    ax = fig.add_axes([l / W, 1 - b / H, (r - l) / W, (b - t) / H])
    ax.spines['top'].set_visible(False)
    ax.spines['right'].set_visible(False)
    ax.patch.set_alpha(0)
    return ax


def calib(p0, v0, p1, v1, a, b):
    k = (v1 - v0) / (p1 - p0)
    return v0 + (a - p0) * k, v0 + (b - p0) * k


def vbar(x, y0, y1):
    fig.add_artist(Line2D([x / W, x / W], [1 - y0 / H, 1 - y1 / H], color='#222222', lw=1.9))


def panel_scatter(box, xcal, ycal, xticks, yticks, pts, fit, fit_x, ms=10.5):
    l, t, r, b = box
    ax = make_axes(l, t, r, b)
    ax.set_xlim(*calib(xcal[0], xcal[1], xcal[2], xcal[3], l, r))
    ax.set_ylim(*calib(ycal[0], ycal[1], ycal[2], ycal[3], b, t))
    ax.scatter([p[0] for p in pts], [p[1] for p in pts], s=ms, color=BLUE, linewidths=0, zorder=3, clip_on=False)
    ax.plot(fit_x, [fit[0] * v + fit[1] for v in fit_x], color=LINE_RED, lw=1.0, zorder=5)
    ax.set_xticks(xticks)
    ax.set_xticklabels([f'{v:g}' for v in xticks])
    ax.set_yticks(yticks)
    ax.set_yticklabels([f'{v:g}' for v in yticks])
    ax.tick_params(labelsize=5.2, length=1.5, width=0.6, colors=TXT, pad=1.5)
    ax.spines['left'].set_color('#666666')
    ax.spines['left'].set_linewidth(1.0)
    ax.spines['bottom'].set_color('#444444')
    ax.spines['bottom'].set_linewidth(1.0)
    return ax


def extra(ax, pts, color, s=10.5, z=4):
    ax.scatter([p[0] for p in pts], [p[1] for p in pts], s=s, color=color, linewidths=0, zorder=z)


def stats(x, ys, lines):
    for y, s in zip(ys, lines):
        ftext(x, y, s)


def eq(x, y0, y1, s1, s2):
    fig.add_artist(Line2D([(x - 3.5) / W, (x - 0.8) / W], [1 - y0 / H, 1 - y0 / H], color=LINE_RED, lw=1.0))
    ftext(x, y0, s1)
    ftext(x, y1, s2)


def ylab(x1, x2, y, s1, s2, size=5.1):
    ftext(x1, y, s1, size=size, ha='center', rotation=90)
    ftext(x2, y, s2, size=size, ha='center', rotation=90)


def legend(mx, tx, ys, labels, colors):
    for y, s, c in zip(ys, labels, colors):
        if c:
            fig.add_artist(Line2D([mx / W], [1 - y / H], marker='o', ms=2.0, color=c, lw=0, mew=0))
        ftext(tx, y, s, size=5.3)


# panel letters
for s, x, y in [('A', 1, 8), ('B', 298, 7), ('C', 1, 199), ('D', 1, 390), ('E', 1, 841)]:
    ftext(x, y, s, size=13, color='#222222')

# ---- A
ax = make_axes(29, 30, 295, 129)
ax.bar(range(len(tpm)), tpm, width=0.85, color='#ee646a', zorder=3)
ax.set_xlim(-0.7, 30.55)
ax.set_ylim(0, 64.8)
ax.set_xticks(range(len(tpm)))
ax.set_xticklabels(cancer_types, rotation=90)
ax.set_yticks([0, 10, 20, 30, 40, 50, 60])
ax.tick_params(labelsize=5, length=0, colors=TXT, pad=1.5)
ax.grid(axis='y', color='#f3f3f3', lw=0.5, zorder=0)
for sp in ['left', 'bottom']:
    ax.spines[sp].set_visible(False)
ax.set_ylabel('Transcripts per million (TPM)', fontsize=5, color=TXT, labelpad=2)
fig.add_artist(Rectangle((143 / W, 1 - 154.5 / H), 9 / W, 2.5 / H, color='black', transform=fig.transFigure))

# ---- B
panel_scatter((337, 37, 463, 165), (351, 4, 459, 6.5), (154.3, 3, 39, 7.5), [4, 4.5, 5, 5.5, 6, 6.5], [3, 3.5, 4, 4.5, 5, 5.5, 6, 6.5, 7, 7.5], b_tcga, (0.72, 1.26), [4.0, 6.32])
panel_scatter((539, 38, 667, 165), (548.3, 2.3, 665.7, 3), (146, 2.2, 47.3, 3.2), [2.3, 2.4, 2.5, 2.6, 2.7, 2.8, 2.9, 3], [2.2, 2.4, 2.6, 2.8, 3, 3.2], b_tyner, (0.89, 0.3), [2.33, 2.91])
uline(407, 11.5, 'TCGA')
uline(608, 11.5, 'Tyner $\\bfit{et\\ al.}$')
ftext(407, 24, 'LSD1 vs GSE1', size=6.9, color=RED, ha='center', fontweight='bold')
ftext(608, 24, 'LSD1 vs GSE1', size=6.9, color=RED, ha='center', fontweight='bold')
stats(455, [30, 39, 55.7, 65], ['Spearman: 0.44', '(p=6.67e-10)', 'Pearson: 0.38', '(p=2.13e-7)'])
eq(455, 82, 90.7, 'y=0.72x+1.26', 'R²=0.14')
stats(659, [30, 39, 55.7, 65], ['Spearman: 0.56', '(p=7.85e-39)', 'Pearson: 0.54', '(p=1.83e-35)'])
eq(659, 82, 90.7, 'y=0.89x+0.3', 'R²=0.29')
xl = 'mRNA expression (RNA-seq RPKM):'
ftext(408, 179.5, xl, ha='center')
ftext(408, 188.5, 'KDM1A (1p36.12) (log2)', ha='center')
ftext(610, 179.5, xl, ha='center')
ftext(610, 188.5, 'KDM1A (1p36.12) (log2)', ha='center')
ylab(311.7, 321, 93, xl, 'GSE1 (log2)')
ylab(512, 521.7, 93, xl, 'GSE1 (log2)')


# ---- C
def enrich(box, xcal, ticks, terms, vals, xlab_x):
    l, t, r, b = box
    ax = make_axes(l, t, r, b)
    ax.set_xlim(*calib(xcal[0], xcal[1], xcal[2], xcal[3], l, r))
    ax.barh(range(len(vals)), vals, height=0.93, color='#5b80ae', edgecolor='#b4cbe4', linewidth=0.6)
    ax.set_ylim(9.65, -0.6)
    ax.set_yticks(range(len(vals)))
    ax.set_yticklabels(terms)
    ax.set_xticks(ticks)
    ax.set_xticklabels([f'{v:g}' for v in ticks])
    ax.tick_params(axis='x', labelsize=5, length=2, width=0.5, colors=TXT, pad=1.5)
    ax.tick_params(axis='y', labelsize=5.1, length=0, colors=TXT, pad=0.5)
    ax.spines['left'].set_color('#c4c4c4')
    ax.spines['left'].set_linewidth(0.6)
    ax.spines['bottom'].set_color('#777777')
    ax.spines['bottom'].set_linewidth(0.6)
    ftext(xlab_x, 378.3, 'Enrichment ratio', size=5, ha='center')


enrich((141, 235.5, 353, 360.7), (141, 0, 353, 4), [0, .5, 1, 1.5, 2, 2.5, 3, 3.5, 4], terms_tcga, ratio_tcga, 247)
enrich((504.3, 237, 704.6, 360.7), (504.3, 0, 697.8, 2.2), [0, .2, .4, .6, .8, 1, 1.2, 1.4, 1.6, 1.8, 2, 2.2], terms_tyner, ratio_tyner, 602)
uline(239, 223.3, 'TCGA')
uline(584, 223.3, 'Tyner $\\bfit{et\\ al.}$', size=6.5)

# ---- D
for s, x in [('GSE1 vs CD11b', 136), ('GSE1 vs CD14', 305.7), ('GSE1 vs CD86', 473.7), ('GSE1 vs cKIT', 641.7)]:
    ftext(x, 409, s, size=6.9, color=RED, ha='center', fontweight='bold')
vbar(43.3, 425, 617.7)
vbar(43.3, 625, 818)
uline(21, 507.7, 'TCGA')
uline(21, 709, 'Tyner')
uline(21, 729, '$\\bfit{et\\ al.}$')

xt_top = [3, 3.5, 4, 4.5, 5, 5.5, 6, 6.5, 7, 7.5]
xt_bot = [4, 5, 6, 7, 8, 9]
panel_scatter((76, 464, 203, 590), (85.7, 3, 200.3, 7.5), (572, 0, 472.3, 8), xt_top, [-1, 0, 1, 2, 3, 4, 5, 6, 7, 8], itgam_tcga, (-0.57, 7.18), [3.2, 7.0])
panel_scatter((241, 464, 367, 590), (251, 3, 352.3, 7), (577.3, -4, 469.7, 10), xt_top, [-4, -2, 0, 2, 4, 6, 8, 10], cd14_tcga, (-1.26, 9.55), [3.2, 7.0])
panel_scatter((411.7, 464, 538, 590), (422, 3, 536.7, 7.5), (577.7, -4, 482.7, 6), xt_top, [-4, -2, 0, 2, 4, 6], cd86_tcga, (-0.52, 5.16), [3.2, 7.0])
panel_scatter((576.7, 464, 703, 590), (586, 3, 700, 7.5), (582.3, -2, 467.7, 10), xt_top, [-2, 0, 2, 4, 6, 8, 10], kit_tcga, (0.97, 0.21), [3.2, 7.0])

ax5 = panel_scatter((76, 666, 201, 791), (80, 4, 191, 9), (790, 1, 675, 11), xt_bot, [1, 2, 3, 4, 5, 6, 7, 8, 9, 10, 11], itgam_tyner, (-0.87, 13.14), [4.4, 8.85])
ax6 = panel_scatter((239.3, 666, 364, 791), (244.3, 4, 355, 9), (782.3, -2, 676, 12), xt_bot, [-2, 0, 2, 4, 6, 8, 10, 12], cd14_tyner, (-1.62, 16.52), [4.4, 8.85])
ax7 = panel_scatter((410.3, 666, 535, 791), (414, 4, 524, 9), (784.7, -2, 685.7, 8), xt_bot, [-2, 0, 2, 4, 6, 8], cd86_tyner, (-0.96, 11.02), [4.4, 8.85])
ax8 = panel_scatter((576.7, 666, 701.7, 791), (581, 4, 692, 9), (778.7, -2, 680.7, 10), xt_bot, [-2, 0, 2, 4, 6, 8, 10], kit_tyner, (1.07, -1.09), [4.4, 8.85])
for a, gold, grey in [(ax5, gold_itgam, grey_itgam), (ax6, gold_cd14, grey_cd14), (ax7, gold_cd86, grey_cd86), (ax8, gold_kit, grey_kit)]:
    extra(a, grey, '#e4e4e4', z=2)
    extra(a, gold, '#9a7a12', s=8, z=6)
extra(ax8, pink_kit, '#f08bb0', s=9, z=4)

ty_top = [426, 435, 452, 461]
stats(163.7, ty_top, ['Spearman: -0.29', '(p=1.042e-4)', 'Pearson: -0.25', '(p=9.040e-4)'])
stats(335.7, ty_top, ['Spearman: -0.34', '(p=2.708e-6)', 'Pearson: -0.29', '(p=6.499e-5)'])
stats(499.3, ty_top, ['Spearman: -0.27', '(p=2.233e-4)', 'Pearson: -0.17', '(p=0.0209)'])
stats(583.3, ty_top, ['Spearman: 0.38', '(p=1.62e-7)', 'Pearson: 0.42', '(p=6.71e-9)'])
eq(163.7, 478, 486.3, 'y=-0.57x+7.18', 'R²=0.06')
eq(335.7, 478, 486.3, 'y=-1.26x+9.55', 'R²=0.09')
eq(499.3, 478, 486.3, 'y=-0.52x+5.16', 'R²=0.03')
eq(583.3, 478, 486.3, 'y=0.97x+0.21', 'R²=0.17')
ty_bot = [630, 638.7, 656, 664.7]
stats(163.7, ty_bot, ['Spearman: -0.41', '(p=1.60e-19)', 'Pearson: -0.40', '(p=2.49e-18)'])
stats(335.7, ty_bot, ['Spearman: -0.44', '(p=6.56e-22)', 'Pearson: -0.42', '(p=8.06e-20)'])
stats(499.7, ty_bot, ['Spearman: -0.37', '(p=1.09e-15)', 'Pearson: -0.34', '(p=3.65e-13)'])
stats(583.7, ty_bot, ['Spearman: 0.44', '(p=3.20e-22)', 'Pearson: 0.40', '(p=7.32e-18)'])
eq(163.7, 682.3, 690.3, 'y=-0.87x+13.14', 'R²=0.16')
eq(335.7, 682.3, 690.3, 'y=-1.62x+16.52', 'R²=0.17')
eq(499.7, 682.3, 690.3, 'y=-0.96x+11.02', 'R²=0.11')
eq(583.7, 682.3, 690.3, 'y=1.07x+ -1.09', 'R²=0.16')

leg_labels = ['GSE1 mutated', 'Neither mutated', 'Not profiled for', 'mutations']
leg_colors = ['#9a7a12', BLUE, '#e4e4e4', None]
for mx, tx in [(81.7, 85), (247, 249.7), (420.3, 423)]:
    legend(mx, tx, [630, 643.3, 652.3, 661.3], leg_labels, leg_colors)
legend(654.7, 657.7, [630, 643.3, 654.3, 664.7, 673.3], ['GSE1 mutated', 'Neither mutated', 'KIT mutated', 'Not profiled for', 'mutations'], ['#9a7a12', BLUE, '#f08bb0', '#e4e4e4', None])

for cx in [146.7, 312.5, 480.5, 644.5]:
    ftext(cx, 605.7, xl, ha='center')
    ftext(cx, 614, 'GSE1 (16q24.1) (log2)', ha='center')
for cx in [138, 303, 473.4, 641]:
    ftext(cx, 805, xl, ha='center')
    ftext(cx, 813.6, 'GSE1 (16q24.1)', ha='center')
for x1, x2, s in [(52, 61, 'ITGAM (log2)'), (221, 229, 'CD14 (log2)'), (390.7, 400, 'CD86 (log2)'), (555.7, 565, 'KIT (log2)')]:
    ylab(x1, x2, 527, xl, s)
for x1, x2, s in [(52, 61, 'ITGAM (log2)'), (219, 228, 'CD14 (log2)'), (390, 400, 'CD86 (log2)'), (556, 565, 'KIT (log2)')]:
    ylab(x1, x2, 728, xl, s)


# ---- E
def strip_panel(box, centers, high, low, stat, pval, pval_x, xl1, xl2, ylabel):
    l, t, r, b = box
    ax = make_axes(l, t, r, b)
    ax.set_xlim(*calib(centers[0], 0, centers[1], 1, l, r))
    ax.set_ylim(*calib(948, 0, 854.3, 120, b, t))
    for i, vals in enumerate([high, low]):
        lo, q1, med, q3, hi = stat[i]
        ax.add_patch(Rectangle((i - 0.26, q1), 0.52, q3 - q1, facecolor='#eeeeee', edgecolor='#b5b5b5', lw=0.8, zorder=2))
        ax.plot([i - 0.26, i + 0.26], [med, med], color='#aaaaaa', lw=0.9, zorder=2)
        ax.plot([i, i], [lo, q1], color='#b5b5b5', lw=0.7, zorder=2)
        ax.plot([i, i], [q3, hi], color='#b5b5b5', lw=0.7, zorder=2)
        ax.plot([i - 0.26, i + 0.26], [lo, lo], color='#b5b5b5', lw=0.8, zorder=2)
        ax.plot([i - 0.26, i + 0.26], [hi, hi], color='#b5b5b5', lw=0.8, zorder=2)
        xs = [i + jitter[k % len(jitter)] for k in range(len(vals))]
        ax.scatter(xs, vals, s=3.6, color='#4aa3d9', linewidths=0, zorder=3)
    ax.set_xticks([0, 1])
    ax.set_xticklabels(['GSE1 high', 'GSE1 low'], rotation=45, ha='right', rotation_mode='anchor')
    ax.set_yticks([-20, 0, 20, 40, 60, 80, 100, 120])
    ax.tick_params(labelsize=5.2, length=1.5, width=0.6, colors=TXT, pad=1.5)
    ax.tick_params(axis='x', labelsize=5.0, pad=1)
    ax.spines['left'].set_color('#444444')
    ax.spines['bottom'].set_color('#444444')
    ax.spines['left'].set_linewidth(0.9)
    ax.spines['bottom'].set_linewidth(0.9)
    ftext(pval_x, 850.7, pval, size=5.1, ha='center')
    ylab(xl1, xl2, 910, ylabel, '(percentage)')


strip_panel((103, 851.7, 173.4, 967.7), (120.2, 155.4), pb_tcga_high, pb_tcga_low, box_stats_tcga, 'p-value=1.9e-6', 141.8, 74.7, 84.4, 'Peripheral Blood blast count')
strip_panel((279.3, 851.7, 349.6, 967.7), (297.2, 332), pb_tyner_high, pb_tyner_low, box_stats_pb, 'p-value=3.7e-7', 315, 252.3, 261.7, 'Peripheral Blood blast count')
strip_panel((404.5, 851.7, 474.9, 967.7), (422, 457), bm_tyner_high, bm_tyner_low, box_stats_bm, 'p-value=3.7e-4', 438.6, 379, 388.4, 'Bone Marrow blast count')
vbar(66, 847.7, 998)
vbar(241, 847.7, 998)
uline(44, 919.3, 'TCGA')
uline(219, 900.7, 'Tyner')
uline(219, 921, '$\\bfit{et\\ al.}$')

fig.savefig('out.png', dpi=100)
